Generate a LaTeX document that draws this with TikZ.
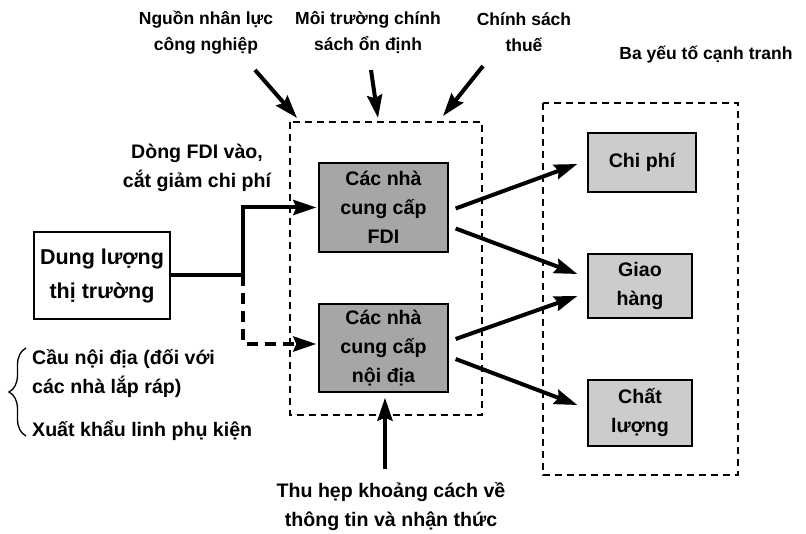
\documentclass[tikz,border=0pt]{standalone}
\usepackage{fontspec}
\setmainfont{Liberation Sans}
\usepackage{xcolor}
\usepackage{tikz}
\usetikzlibrary{positioning, arrows.meta, calc, decorations.pathreplacing}
\definecolor{supfill}{HTML}{A6A6A6}
\definecolor{factfill}{HTML}{CCCCCC}

\begin{document}
\begin{tikzpicture}[x=1pt, y=-1pt,
    txt/.style={font=\fontsize{19.6}{29}\selectfont\bfseries, align=center, inner sep=0pt},
    toptxt/.style={txt, font=\fontsize{17.5}{26}\selectfont\bfseries},
    box/.style={draw, line width=1.3pt, align=center, inner sep=0pt,
      font=\fontsize{19.6}{29}\selectfont\bfseries},
    pane/.style={draw, line width=1.8pt, dash pattern=on 7pt off 5pt},
    arr/.style={-{Stealth[length=23pt, width=15pt, inset=3pt]}, line width=4pt},
    arrd/.style={arr, dash pattern=on 11pt off 7pt}]
\useasboundingbox (0,0) rectangle (806,534);

% --- Suppliers ---
\node[box, fill=supfill, minimum width=129pt, minimum height=89pt](fdi) at (383.5,207.5)
  {Các nhà\\cung cấp\\FDI};
\node[box, fill=supfill, minimum width=129pt, minimum height=88pt](dom) at (383.5,348)
  {Các nhà\\cung cấp\\nội địa};
\draw[pane] (290,122) rectangle (482,415);
\coordinate (grpA) at (290,122);

% --- Competition factors ---
\node[box, fill=factfill, minimum width=108pt, minimum height=59pt](cost) at (642,162.5) {Chi phí};
\node[box, fill=factfill, minimum width=104pt, minimum height=64pt](deliv) at (640,286) {Giao\\hàng};
\node[box, fill=factfill, minimum width=104pt, minimum height=66pt](qual) at (640,413) {Chất\\lượng};
\draw[pane] (543,103) rectangle (738,475);
\node[toptxt](three) at (706,55) {Ba yếu tố cạnh tranh};

% --- Market ---
\node[box, minimum width=136pt, minimum height=87pt,
  font=\fontsize{21.5}{34}\selectfont\bfseries](market) at (102,275.5) {Dung lượng\\thị trường};
\coordinate (split) at (243,275.5);
\node[txt](fdiflow) at (197,168) {Dòng FDI vào,\\cắt giảm chi phí};
\draw[arr, -] (market.east) -- (split);
\draw[arr, shorten >=2pt] (split) |- (fdi.west);
\draw[arrd, shorten >=2pt] (split) |- ($(dom.west)+(0,-4)$);

% --- Demand side ---
\node[txt, align=left, anchor=west](dmd) at (32,373.5) {Cầu nội địa (đối với\\các nhà lắp ráp)};
\node[txt, anchor=west](exp) at (32,431) {Xuất khẩu linh phụ kiện};
\draw[decorate, decoration={brace, amplitude=17pt}, line width=1.3pt] (26,436) -- (26,348);

% --- Outside influences ---
\node[toptxt](labour) at (206,33) {Nguồn nhân lực\\công nghiệp};
\node[toptxt](policy) at (368,33) {Môi trường chính\\sách ổn định};
\node[toptxt](tax) at (524,32) {Chính sách\\thuế};
\node[txt](gap) at (391,507) {Thu hẹp khoảng cách về\\thông tin và nhận thức};
\draw[arr] ($(grpA)+(-35,-52)$) -- ($(grpA)+(7,-4)$);
\draw[arr] ($(grpA)+(81,-52)$) -- ($(grpA)+(88,-4)$);
\draw[arr] ($(grpA)+(193,-56)$) -- ($(grpA)+(153,-6)$);
\draw[arr] ($(dom.south)+(1.5,76)$) -- ($(dom.south)+(1.5,5)$);

% --- Suppliers to factors ---
\draw[arr] ($(fdi.east)+(7,1)$) -- ($(cost.west)+(-10,1.5)$);
\draw[arr] ($(fdi.east)+(7,21)$) -- ($(deliv.west)+(-10,-12)$);
\draw[arr] ($(dom.east)+(7,-9)$) -- ($(deliv.west)+(-10,10)$);
\draw[arr] ($(dom.east)+(7,11)$) -- ($(qual.west)+(-10,-8)$);
\end{tikzpicture}
\end{document}
